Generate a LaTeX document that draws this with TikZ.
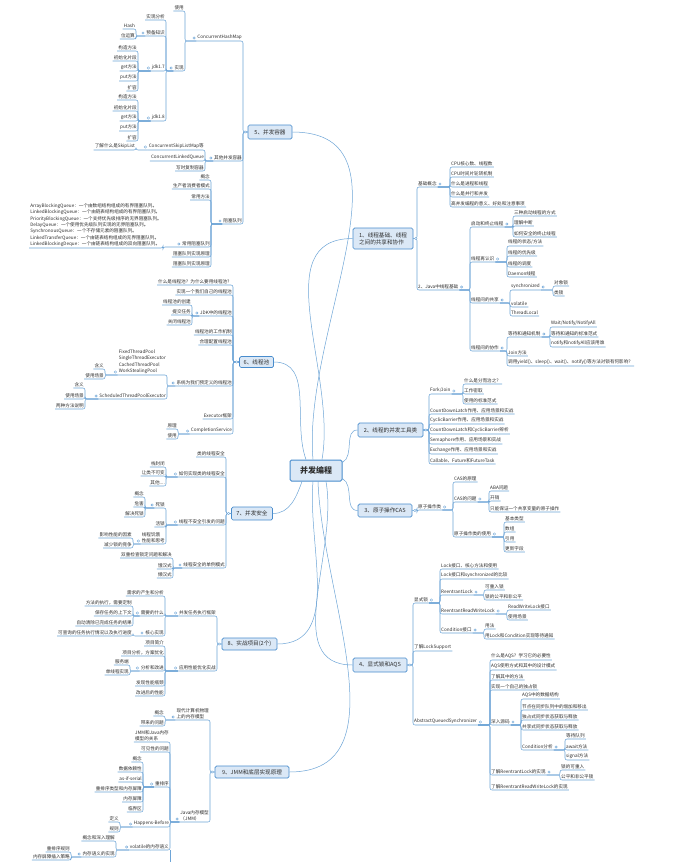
\documentclass[tikz,border=0pt]{standalone}
\usepackage{fontspec}
\setmainfont{Noto Sans CJK SC}
\definecolor{linkblue}{RGB}{110,165,215}
\definecolor{boxfill}{RGB}{219,232,246}
\definecolor{boxline}{RGB}{72,140,205}
\definecolor{txt}{RGB}{45,45,45}
\tikzset{
  leaf/.style={inner xsep=1pt, inner ysep=1pt, text=txt, font=\fontsize{4.6}{5.8}\selectfont},
  rl/.style={leaf, anchor=south west},
  ll/.style={leaf, anchor=south east},
  topic/.style={draw=boxline, fill=boxfill, rounded corners=1.5pt, line width=0.7pt,
    inner sep=1.5pt, text=txt, font=\fontsize{5.6}{7}\selectfont},
  root/.style={topic, line width=1pt, font=\fontsize{8}{9}\selectfont\bfseries},
  link/.style={draw=linkblue, line width=0.55pt, rounded corners=2pt},
  curve/.style={draw=linkblue, line width=0.5pt},
  knobR/.style={circle, draw=linkblue, fill=white, inner sep=0pt, minimum size=2.4pt,
    line width=0.4pt, xshift=2.2pt, yshift=3pt},
  knobL/.style={circle, draw=linkblue, fill=white, inner sep=0pt, minimum size=2.4pt,
    line width=0.4pt, xshift=-2.2pt, yshift=3pt}
}
\begin{document}
\begin{tikzpicture}[x=1pt, y=-1pt]
    \fill[white] (0,0) rectangle (682,862);
    \useasboundingbox (0,0) rectangle (682,862);

    % centre and main topics
    \node[root, minimum width=52pt, minimum height=21pt] (root) at (316,470.5) {并发编程};
    \node[topic, align=left, minimum width=60pt, minimum height=21pt] (t1) at (383,238.5) {1、线程基础、线程\\之间的共享和协作};
    \node[topic, minimum width=65pt, minimum height=14pt] (t2) at (390.5,430) {2、线程的并发工具类};
    \node[topic, minimum width=54pt, minimum height=13pt] (t3) at (385,510.5) {3、原子操作CAS};
    \node[topic, minimum width=54pt, minimum height=14pt] (t4) at (380,665) {4、显式锁和AQS};
    \node[topic, minimum width=44pt, minimum height=14pt] (t5) at (270,132) {5、并发容器};
    \node[topic, minimum width=34pt, minimum height=11pt] (t6) at (256.5,362) {6、线程池};
    \node[topic, minimum width=41pt, minimum height=13pt] (t7) at (252,513.5) {7、并发安全};
    \node[topic, minimum width=55pt, minimum height=12pt] (t8) at (249.5,644) {8、实战项目(2个)};
    \node[topic, minimum width=74pt, minimum height=12pt] (t9) at (252,772) {9、JMM和底层实现原理};

    \draw[curve] ([xshift=6pt]root.north) to[out=80,in=180] (t1.west);
    \draw[curve] ([yshift=-3pt]root.north east) to[out=30,in=180] (t2.west);
    \draw[curve] ([yshift=3pt]root.south east) to[out=-30,in=180] (t3.west);
    \draw[curve] ([xshift=10pt]root.south) to[out=-80,in=180] (t4.west);
    \draw[curve] ([xshift=-3pt]root.north) to[out=95,in=0] (t5.east);
    \draw[curve] ([xshift=-10pt]root.north) to[out=110,in=0] (t6.east);
    \draw[curve] ([xshift=-14pt]root.south) to[out=-110,in=0] (t7.east);
    \draw[curve] ([xshift=-3pt]root.south) to[out=-95,in=0] (t8.east);
    \draw[curve] ([xshift=2pt]root.south) to[out=-88,in=0] (t9.east);

    % 1
    \node[rl] (t1a) at (417,187) {基础概念};
    \node[rl] (t1a1) at (450,167) {CPU核心数、线程数};
    \node[rl] (t1a2) at (450,177) {CPU时间片轮转机制};
    \node[rl] (t1a3) at (450,187) {什么是进程和线程};
    \node[rl] (t1a4) at (450,197) {什么是并行和并发};
    \node[rl] (t1a5) at (450,207) {高并发编程的意义、好处和注意事项};
    \node[rl] (t1b) at (417,290) {2、Java中线程基础};
    \node[rl] (t1b1) at (470,227) {启动和终止线程};
    \node[rl] (t1b11) at (513,216) {三种启动线程的方式};
    \node[rl] (t1b12) at (513,226) {理解中断};
    \node[rl] (t1b13) at (513,237) {如何安全的终止线程};
    \node[rl] (t1b2) at (470,262) {线程再认识};
    \node[rl] (t1b21) at (507,246) {线程的状态/方法};
    \node[rl] (t1b22) at (507,256) {线程的优先级};
    \node[rl] (t1b23) at (507,267) {线程的调度};
    \node[rl] (t1b24) at (507,277) {Daemon线程};
    \node[rl] (t1b3) at (470,303) {线程间的共享};
    \node[rl] (t1b31) at (510,290) {synchronized};
    \node[rl] (t1b311) at (553,286) {对象锁};
    \node[rl] (t1b312) at (553,296) {类锁};
    \node[rl] (t1b32) at (510,307) {volatile};
    \node[rl] (t1b33) at (510,316) {ThreadLocal};
    \node[rl] (t1b4) at (470,351) {线程间的协作};
    \node[rl] (t1b41) at (507,337) {等待和通知机制};
    \node[rl] (t1b411) at (550,327) {Wait/Notify/NotifyAll};
    \node[rl] (t1b412) at (550,337) {等待和通知的标准范式};
    \node[rl] (t1b413) at (550,347) {notify和notifyAll应该用谁};
    \node[rl] (t1b42) at (507,356) {Join方法};
    \node[rl] (t1b43) at (507,366) {调用yield()、sleep()、wait()、notify()等方法对锁有何影响？};

    % 2
    \node[rl] (t2a) at (429,394) {Fork/Join};
    \node[rl] (t2a1) at (463,384) {什么是分而治之？};
    \node[rl] (t2a2) at (463,394) {工作密取};
    \node[rl] (t2a3) at (463,404) {使用的标准范式};
    \node[rl] (t2b) at (429,414) {CountDownLatch作用、应用场景和实战};
    \node[rl] (t2c) at (429,424) {CyclicBarrier作用、应用场景和实战};
    \node[rl] (t2d) at (429,434) {CountDownLatch和CyclicBarrier辨析};
    \node[rl] (t2e) at (429,444) {Semaphore作用、应用场景和实战};
    \node[rl] (t2f) at (429,454) {Exchange作用、应用场景和实战};
    \node[rl] (t2g) at (429,464) {Callable、Future和FutureTask};

    % 3
    \node[rl] (t3a) at (417,510) {原子操作类};
    \node[rl] (t3a1) at (453,482) {CAS的原理};
    \node[rl] (t3a2) at (453,502) {CAS的问题};
    \node[rl] (t3a21) at (489,491) {ABA问题};
    \node[rl] (t3a22) at (489,501) {开销};
    \node[rl] (t3a23) at (489,512) {只能保证一个共享变量的原子操作};
    \node[rl] (t3a3) at (453,537) {原子操作类的使用};
    \node[rl] (t3a31) at (504,522) {基本类型};
    \node[rl] (t3a32) at (504,532) {数组};
    \node[rl] (t3a33) at (504,542) {引用};
    \node[rl] (t3a34) at (504,552) {更新字段};

    % 4
    \node[rl] (t4a) at (413,603) {显式锁};
    \node[rl] (t4a1) at (440,569) {Lock接口、核心方法和使用};
    \node[rl] (t4a2) at (440,579) {Lock接口和synchronized的比较};
    \node[rl] (t4a3) at (440,595) {ReentrantLock};
    \node[rl] (t4a31) at (484,590) {可重入锁};
    \node[rl] (t4a32) at (484,600) {锁的公平和非公平};
    \node[rl] (t4a4) at (440,614) {ReentrantReadWriteLock};
    \node[rl] (t4a41) at (507,610) {ReadWriteLock接口};
    \node[rl] (t4a42) at (507,620) {使用场景};
    \node[rl] (t4a5) at (440,633) {Condition接口};
    \node[rl] (t4a51) at (484,629) {用法};
    \node[rl] (t4a52) at (484,639) {用Lock和Condition实现等待通知};
    \node[rl] (t4b) at (413,651) {了解LockSupport};
    \node[rl] (t4c) at (413,725) {AbstractQueuedSynchronizer};
    \node[rl] (t4c1) at (490,660) {什么是AQS？学习它的必要性};
    \node[rl] (t4c2) at (490,670) {AQS使用方式和其中的设计模式};
    \node[rl] (t4c3) at (490,680) {了解其中的方法};
    \node[rl] (t4c4) at (490,690) {实现一个自己的独占锁};
    \node[rl] (t4c5) at (490,725) {深入源码};
    \node[rl] (t4c51) at (521,699) {AQS中的数据结构};
    \node[rl] (t4c52) at (521,710) {节点在同步队列中的增加和移出};
    \node[rl] (t4c53) at (521,720) {独占式同步状态获取与释放};
    \node[rl] (t4c54) at (521,730) {共享式同步状态获取与释放};
    \node[rl] (t4c55) at (521,750) {Condition分析};
    \node[rl] (t4c551) at (565,739) {等待队列};
    \node[rl] (t4c552) at (565,750) {await方法};
    \node[rl] (t4c553) at (565,760) {signal方法};
    \node[rl] (t4c6) at (490,775) {了解ReentrantLock的实现};
    \node[rl] (t4c61) at (560,770) {锁的可重入};
    \node[rl] (t4c62) at (560,780) {公平和非公平锁};
    \node[rl] (t4c7) at (490,790) {了解ReentrantReadWriteLock的实现};

    % 5
    \node[ll] (t5a) at (243,41) {ConcurrentHashMap};
    \node[ll] (t5a1) at (185,11) {使用};
    \node[ll] (t5a2) at (185,71) {实现};
    \node[ll] (t5a21) at (166,20) {实现分析};
    \node[ll] (t5a22) at (166,36) {预备知识};
    \node[ll] (t5a221) at (136,29) {Hash};
    \node[ll] (t5a222) at (136,39) {位运算};
    \node[ll] (t5a23) at (166,71) {jdk1.7};
    \node[ll] (t5a231) at (138,51) {构造方法};
    \node[ll] (t5a232) at (138,61) {初始化片段};
    \node[ll] (t5a233) at (138,71) {get方法};
    \node[ll] (t5a234) at (138,81) {put方法};
    \node[ll] (t5a235) at (138,91) {扩容};
    \node[ll] (t5a24) at (166,121) {jdk1.8};
    \node[ll] (t5a241) at (138,100) {构造方法};
    \node[ll] (t5a242) at (138,111) {初始化片段};
    \node[ll] (t5a243) at (138,121) {get方法};
    \node[ll] (t5a244) at (138,131) {put方法};
    \node[ll] (t5a245) at (138,141) {扩容};
    \node[ll] (t5b) at (243,161) {其他并发容器};
    \node[ll] (t5b1) at (205,150) {ConcurrentSkipListMap等};
    \node[ll] (t5b11) at (136,150) {了解什么是SkipList};
    \node[ll] (t5b2) at (205,161) {ConcurrentLinkedQueue};
    \node[ll] (t5b3) at (205,171) {写时复制容器};
    \node[ll] (t5c) at (243,224) {阻塞队列};
    \node[ll] (t5c1) at (211,180) {概念};
    \node[ll] (t5c2) at (211,189) {生产者消费者模式};
    \node[ll] (t5c3) at (211,200) {常用方法};
    \node[ll] (t5c4) at (211,247) {常用阻塞队列};
    \node[ll, align=left, font=\fontsize{4.6}{6.4}\selectfont] (t5c41) at (163,248) {%
      ArrayBlockingQueue：一个由数组结构组成的有界阻塞队列。\\
      LinkedBlockingQueue：一个由链表结构组成的有界阻塞队列。\\
      PriorityBlockingQueue：一个支持优先级排序的无界阻塞队列。\\
      DelayQueue：一个使用优先级队列实现的无界阻塞队列。\\
      SynchronousQueue：一个不存储元素的阻塞队列。\\
      LinkedTransferQueue：一个由链表结构组成的无界阻塞队列。\\
      LinkedBlockingDeque：一个由链表结构组成的双向阻塞队列。};
    \node[ll] (t5c5) at (211,257) {阻塞队列实现原理};
    \node[ll] (t5c6) at (211,267) {阻塞队列实现原理};

    % 6
    \node[ll] (t6a) at (233,285) {什么是线程池？为什么要用线程池？};
    \node[ll] (t6b) at (233,295) {实现一个我们自己的线程池};
    \node[ll] (t6c) at (233,316) {JDK中的线程池};
    \node[ll] (t6c1) at (192,305) {线程池的创建};
    \node[ll] (t6c2) at (192,315) {提交任务};
    \node[ll] (t6c3) at (192,325) {关闭线程池};
    \node[ll] (t6d) at (233,335) {线程池的工作机制};
    \node[ll] (t6e) at (233,345) {合理配置线程池};
    \node[ll] (t6f) at (233,386) {系统为我们预定义的线程池};
    \node[ll, align=left, font=\fontsize{4.6}{6.4}\selectfont] (t6f1) at (167,375) {%
      FixedThreadPool\\SingleThreadExecutor\\CachedThreadPool\\WorkStealingPool};
    \node[ll] (t6f11) at (105,369) {含义};
    \node[ll] (t6f12) at (105,379) {使用场景};
    \node[ll] (t6f2) at (167,399) {ScheduledThreadPoolExecutor};
    \node[ll] (t6f21) at (85,388) {含义};
    \node[ll] (t6f22) at (85,399) {使用场景};
    \node[ll] (t6f23) at (85,409) {两种方法说明};
    \node[ll] (t6g) at (233,419) {Executor框架};
    \node[ll] (t6h) at (233,434) {CompletionService};
    \node[ll] (t6h1) at (178,429) {原理};
    \node[ll] (t6h2) at (178,439) {使用};

    % 7
    \node[ll] (t7a) at (226,457) {类的线程安全};
    \node[ll] (t7b) at (226,477) {如何实现类的线程安全};
    \node[ll] (t7b1) at (166,467) {栈封闭};
    \node[ll] (t7b2) at (166,476) {让类不可变};
    \node[ll] (t7b3) at (166,486) {其他....};
    \node[ll] (t7c) at (226,525) {线程不安全引发的问题};
    \node[ll] (t7c1) at (166,508) {死锁};
    \node[ll] (t7c11) at (145,497) {概念};
    \node[ll] (t7c12) at (145,507) {危害};
    \node[ll] (t7c13) at (145,517) {解决死锁};
    \node[ll] (t7c2) at (166,527) {活锁};
    \node[ll, align=left] (t7c3) at (166,544) {线程饥饿\\性能和思考};
    \node[ll] (t7c31) at (133,538) {影响性能的因素};
    \node[ll] (t7c32) at (133,548) {减少锁的竞争};
    \node[ll] (t7d) at (226,568) {线程安全的单例模式};
    \node[ll] (t7d1) at (173,558) {双重检查锁定问题和解决};
    \node[ll] (t7d2) at (173,569) {饿汉式};
    \node[ll] (t7d3) at (173,578) {懒汉式};

    % 8
    \node[ll] (t8a) at (217,616) {并发任务执行框架};
    \node[ll] (t8a1) at (165,596) {需求的产生和分析};
    \node[ll] (t8a2) at (165,616) {需要的什么};
    \node[ll] (t8a21) at (133,606) {方法的执行，需要定制};
    \node[ll] (t8a22) at (133,616) {保存任务的上下文};
    \node[ll] (t8a23) at (133,626) {自动清除已完成任务的结果};
    \node[ll] (t8a3) at (165,636) {核心实现};
    \node[ll] (t8a31) at (133,636) {可查询的任务执行情况以及执行进度};
    \node[ll] (t8b) at (217,671) {应用性能优化实战};
    \node[ll] (t8b1) at (165,646) {项目简介};
    \node[ll] (t8b2) at (165,656) {项目分析，方案优化};
    \node[ll] (t8b3) at (165,671) {分析和改进};
    \node[ll] (t8b31) at (130,665) {服务端};
    \node[ll] (t8b32) at (130,675) {单线程实现};
    \node[ll] (t8b4) at (165,686) {发现性能瓶颈};
    \node[ll] (t8b5) at (165,696) {改进后的性能};

    % 9
    \node[ll, align=left] (t9a) at (210,720) {现代计算机物理\\上的内存模型};
    \node[ll] (t9a1) at (165,716) {概念};
    \node[ll] (t9a2) at (165,726) {带来的问题};
    \node[ll, align=left] (t9b) at (210,822) {Java内存模型\\（JMM）};
    \node[ll, align=left] (t9b1) at (170,742) {JMM和Java内存\\模型的关系};
    \node[ll] (t9b2) at (170,752) {可见性的问题};
    \node[ll] (t9b3) at (170,787) {重排序};
    \node[ll] (t9b31) at (143,762) {概念};
    \node[ll] (t9b32) at (143,772) {数据依赖性};
    \node[ll] (t9b33) at (143,782) {as-if-serial};
    \node[ll] (t9b34) at (143,792) {重排序类型和内存屏障};
    \node[ll] (t9b35) at (143,802) {内存屏障};
    \node[ll] (t9b36) at (143,812) {临界区};
    \node[ll] (t9b4) at (170,827) {Happens-Before};
    \node[ll] (t9b41) at (120,822) {定义};
    \node[ll] (t9b42) at (120,832) {规则};
    \node[ll] (t9b5) at (170,850) {volatile的内存语义};
    \node[ll] (t9b51) at (116,841) {概念和深入理解};
    \node[ll] (t9b52) at (116,857) {内存语义的实现};
    \node[ll] (t9b521) at (71,852) {重排序规则};
    \node[ll] (t9b522) at (71,860) {内存屏障插入策略};
    \coordinate (t9more) at (t9b5.south east |- 0,862);

    % branches, right side
    \foreach \c in {t1a,t1b}
        \draw[link] (\c.south east) -- (\c.south west) |- (t1.east);
    \foreach \c in {t2a,t2b,t2c,t2d,t2e,t2f,t2g}
        \draw[link] (\c.south east) -- (\c.south west) |- (t2.east);
    \draw[link] (t3a.south east) -- (t3a.south west) |- (t3.east);
    \foreach \c in {t4a,t4b,t4c}
        \draw[link] (\c.south east) -- (\c.south west) |- (t4.east);
    \foreach \p/\c in {t1a/t1a1,t1a/t1a2,t1a/t1a3,t1a/t1a4,t1a/t1a5,
        t1b/t1b1,t1b/t1b2,t1b/t1b3,t1b/t1b4,t1b1/t1b11,t1b1/t1b12,t1b1/t1b13,
        t1b2/t1b21,t1b2/t1b22,t1b2/t1b23,t1b2/t1b24,t1b3/t1b31,t1b3/t1b32,t1b3/t1b33,
        t1b31/t1b311,t1b31/t1b312,t1b4/t1b41,t1b4/t1b42,t1b4/t1b43,
        t1b41/t1b411,t1b41/t1b412,t1b41/t1b413,
        t2a/t2a1,t2a/t2a2,t2a/t2a3,
        t3a/t3a1,t3a/t3a2,t3a/t3a3,t3a2/t3a21,t3a2/t3a22,t3a2/t3a23,
        t3a3/t3a31,t3a3/t3a32,t3a3/t3a33,t3a3/t3a34,
        t4a/t4a1,t4a/t4a2,t4a/t4a3,t4a/t4a4,t4a/t4a5,t4a3/t4a31,t4a3/t4a32,
        t4a4/t4a41,t4a4/t4a42,t4a5/t4a51,t4a5/t4a52,
        t4c/t4c1,t4c/t4c2,t4c/t4c3,t4c/t4c4,t4c/t4c5,t4c/t4c6,t4c/t4c7,
        t4c5/t4c51,t4c5/t4c52,t4c5/t4c53,t4c5/t4c54,t4c5/t4c55,
        t4c55/t4c551,t4c55/t4c552,t4c55/t4c553,t4c6/t4c61,t4c6/t4c62}
        \draw[link] (\c.south east) -- (\c.south west) |- (\p.south east);

    % branches, left side
    \foreach \c in {t5a,t5b,t5c}
        \draw[link] (\c.south west) -- (\c.south east) |- (t5.west);
    \foreach \c in {t6a,t6b,t6c,t6d,t6e,t6f,t6g,t6h}
        \draw[link] (\c.south west) -- (\c.south east) |- (t6.west);
    \foreach \c in {t7a,t7b,t7c,t7d}
        \draw[link] (\c.south west) -- (\c.south east) |- (t7.west);
    \foreach \c in {t8a,t8b}
        \draw[link] (\c.south west) -- (\c.south east) |- (t8.west);
    \foreach \c in {t9a,t9b}
        \draw[link] (\c.south west) -- (\c.south east) |- (t9.west);
    \foreach \p/\c in {t5a/t5a1,t5a/t5a2,t5a2/t5a21,t5a2/t5a22,t5a2/t5a23,t5a2/t5a24,
        t5a22/t5a221,t5a22/t5a222,t5a23/t5a231,t5a23/t5a232,t5a23/t5a233,t5a23/t5a234,t5a23/t5a235,
        t5a24/t5a241,t5a24/t5a242,t5a24/t5a243,t5a24/t5a244,t5a24/t5a245,
        t5b/t5b1,t5b/t5b2,t5b/t5b3,t5b1/t5b11,
        t5c/t5c1,t5c/t5c2,t5c/t5c3,t5c/t5c4,t5c/t5c5,t5c/t5c6,t5c4/t5c41,
        t6c/t6c1,t6c/t6c2,t6c/t6c3,t6f/t6f1,t6f/t6f2,t6f1/t6f11,t6f1/t6f12,
        t6f2/t6f21,t6f2/t6f22,t6f2/t6f23,t6h/t6h1,t6h/t6h2,
        t7b/t7b1,t7b/t7b2,t7b/t7b3,t7c/t7c1,t7c/t7c2,t7c/t7c3,
        t7c1/t7c11,t7c1/t7c12,t7c1/t7c13,t7c3/t7c31,t7c3/t7c32,t7d/t7d1,t7d/t7d2,t7d/t7d3,
        t8a/t8a1,t8a/t8a2,t8a/t8a3,t8a2/t8a21,t8a2/t8a22,t8a2/t8a23,t8a3/t8a31,
        t8b/t8b1,t8b/t8b2,t8b/t8b3,t8b/t8b4,t8b/t8b5,t8b3/t8b31,t8b3/t8b32,
        t9a/t9a1,t9a/t9a2,t9b/t9b1,t9b/t9b2,t9b/t9b3,t9b/t9b4,t9b/t9b5,
        t9b3/t9b31,t9b3/t9b32,t9b3/t9b33,t9b3/t9b34,t9b3/t9b35,t9b3/t9b36,
        t9b4/t9b41,t9b4/t9b42,t9b5/t9b51,t9b5/t9b52,t9b52/t9b521,t9b52/t9b522}
        \draw[link] (\c.south west) -- (\c.south east) |- (\p.south west);
    \draw[link] (t9b5.south east) -- (t9more);

    % fold markers
    \foreach \n in {t1,t2,t3,t4}
        \node[circle, draw=linkblue, fill=white, inner sep=0pt, minimum size=2.4pt, line width=0.4pt]
            at ([xshift=2.5pt]\n.east) {};
    \foreach \n in {t5,t6,t7,t8,t9}
        \node[circle, draw=linkblue, fill=white, inner sep=0pt, minimum size=2.4pt, line width=0.4pt]
            at ([xshift=-2.5pt]\n.west) {};
    \foreach \n in {t1a,t1b,t1b1,t1b2,t1b3,t1b31,t1b4,t1b41,t2a,t3a,t3a2,t3a3,
        t4a,t4a3,t4a4,t4a5,t4c,t4c5,t4c55,t4c6}
        \node[knobR] at (\n.south east) {};
    \foreach \n in {t5a,t5a2,t5a22,t5a23,t5a24,t5b,t5b1,t5c,t5c4,t6c,t6f,t6f1,t6f2,t6h,
        t7b,t7c,t7c1,t7c3,t7d,t8a,t8a2,t8a3,t8b,t8b3,t9a,t9b,t9b3,t9b4,t9b5,t9b52}
        \node[knobL] at (\n.south west) {};
\end{tikzpicture}
\end{document}
